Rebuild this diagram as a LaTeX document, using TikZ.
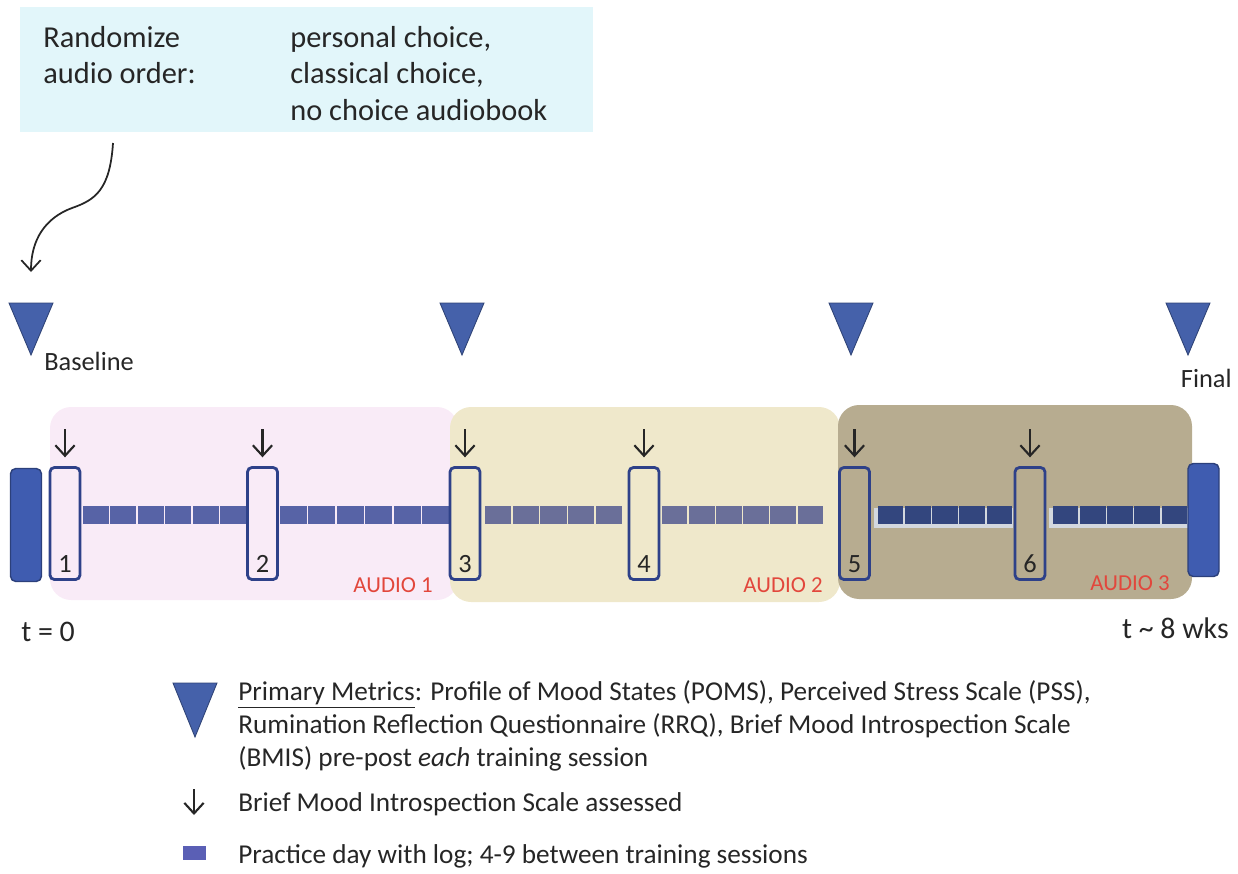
\documentclass[tikz,border=0pt]{standalone}
\usepackage{fontspec}
\setmainfont{Carlito}
\usetikzlibrary{arrows.meta,calc}

\definecolor{topcyan}{HTML}{E2F6FA}
\definecolor{pinkbg}{HTML}{F9EBF7}
\definecolor{yellowbg}{HTML}{EFE8CB}
\definecolor{darkbg}{HTML}{B7AC90}
\definecolor{sessblue}{HTML}{2E4189}
\definecolor{barblue}{HTML}{3F5CB0}
\definecolor{metblue}{HTML}{4561AA}
\definecolor{sqpink}{HTML}{5763A6}
\definecolor{sqyellow}{HTML}{6A6F99}
\definecolor{sqdark}{HTML}{33467E}
\definecolor{stripgray}{HTML}{D3D8DF}
\definecolor{audiored}{HTML}{E2473C}
\definecolor{textgray}{HTML}{262626}
\definecolor{legsq}{HTML}{5A5FB5}

\tikzset{
  sess/.style={draw=sessblue, line width=1.6pt, rounded corners=2.5pt,
    minimum width=0.6cm, minimum height=2.24cm, inner sep=0pt},
  endbar/.style={fill=barblue, draw=barblue!70!black, line width=0.8pt,
    rounded corners=3pt, minimum width=0.62cm, minimum height=2.26cm, inner sep=0pt},
  bmis/.style={draw=textgray, line width=1.2pt, -{Straight Barb[length=6pt,width=11pt]}},
  metric/.style={fill=metblue, draw=metblue!70!black, line width=0.5pt},
  orderbox/.style={fill=topcyan, minimum width=11.46cm, minimum height=2.5cm, inner sep=0pt},
  toptext/.style={text=textgray, inner sep=0pt, font=\fontsize{17.3}{20.7}\selectfont},
  lbl/.style={text=textgray, inner sep=0pt, font=\fontsize{15}{18}\selectfont},
  timetxt/.style={text=textgray, inner sep=0pt, font=\fontsize{17}{20}\selectfont},
  audio/.style={text=audiored, inner sep=0pt, font=\fontsize{13}{15}\selectfont},
  legtext/.style={text=textgray, inner sep=0pt, font=\fontsize{15.5}{18.8}\selectfont},
}

\begin{document}
\begin{tikzpicture}[x=0.02cm,y=-0.02cm]
\useasboundingbox (0,0) rectangle (1238,873);

% audio phases
\fill[pinkbg, rounded corners=12pt] (50,407) rectangle (458,600);
\fill[yellowbg, rounded corners=12pt] (450,407) rectangle (840,602);
\fill[darkbg, rounded corners=12pt] (838,405) rectangle (1192,599);

% order box
\node[orderbox] (order) at (306.5,69.5) {};
\node[toptext, anchor=north west, align=left] (randtxt) at (43,26) {Randomize\\audio order:};
\node[toptext, anchor=north west, align=left] (choicetxt) at (290,26) {personal choice,\\classical choice,\\no choice audiobook};

\coordinate (curvestart) at (113,143);
\coordinate (curveend) at (31,272);
\draw[textgray, line width=1pt, -{Straight Barb[length=6pt,width=11pt]}]
  (curvestart) .. controls (110,190) and (95,200) .. (72,208)
  .. controls (45,218) and (31,240) .. (curveend);

% metric markers
\foreach \x/\name in {31/m1, 462/m2, 851/m3, 1188/m4}{
  \coordinate (\name) at (\x,303);
  \filldraw[metric] ($(\name)+(-22,0)$) -- ($(\name)+(22,0)$) -- ($(\name)+(0,52)$) -- cycle;
}
\node[lbl, anchor=west] (baseline) at (44,361) {Baseline};
\node[lbl, anchor=east] (final) at (1232,378) {Final};

% practice days
\fill[stripgray] (874,508) rectangle (1013,528);
\fill[stripgray] (1049,508) rectangle (1188,528);
\foreach \a/\b/\n/\c in {82/247/6/sqpink, 279/450/6/sqpink, 484/623/5/sqyellow,
    661/824/6/sqyellow, 877/1013/5/sqdark, 1052/1188/5/sqdark}{
  \pgfmathsetmacro\w{(\b-\a)/\n}
  \foreach \k in {1,...,\n}
    \fill[\c] ({\a+(\k-1)*\w+0.8},506) rectangle ({\a+\k*\w-0.8},524);
}

% start and end
\node[endbar] (tstart) at (26,525) {};
\node[endbar] (tfinish) at (1203.5,520) {};

% training sessions
\foreach \i/\x in {1/65, 2/262.5, 3/465, 4/644, 5/854.5, 6/1030}{
  \node[sess] (s\i) at (\x,523.5) {};
  \node[lbl, anchor=base] (n\i) at ([yshift=4.5pt]s\i.south) {\i};
  \draw[bmis] ([yshift=21pt]s\i.north) -- ([yshift=5pt]s\i.north);
}

\node[audio, anchor=east] (audio1) at (433,585) {AUDIO 1};
\node[audio, anchor=east] (audio2) at (823,585) {AUDIO 2};
\node[audio, anchor=east] (audio3) at (1170,583) {AUDIO 3};

\node[timetxt, anchor=west] (tzero) at (21,632) {t = 0};
\node[timetxt, anchor=east] (tend) at (1229,628) {t \textasciitilde{} 8 wks};

% legend
\coordinate (legm) at (195,683);
\filldraw[metric] ($(legm)+(-22,0)$) -- ($(legm)+(22,0)$) -- ($(legm)+(0,54)$) -- cycle;
\node[legtext, anchor=north west, align=left] (legmetric) at (238,680)
  {\underline{Primary Metrics}: Profile of Mood States (POMS), Perceived Stress Scale (PSS),\\
   Rumination Reflection Questionnaire (RRQ), Brief Mood Introspection Scale\\
   (BMIS) pre-post \textit{each} training session};
\coordinate (legarrow) at (194,789);
\draw[bmis] (legarrow) -- ++(0,26);
\node[legtext, anchor=base west] (legbmis) at (238,811) {Brief Mood Introspection Scale assessed};
\fill[legsq] (183,846) rectangle (206,860);
\node[legtext, anchor=base west] (legday) at (238,863) {Practice day with log; 4-9 between training sessions};
\end{tikzpicture}
\end{document}
